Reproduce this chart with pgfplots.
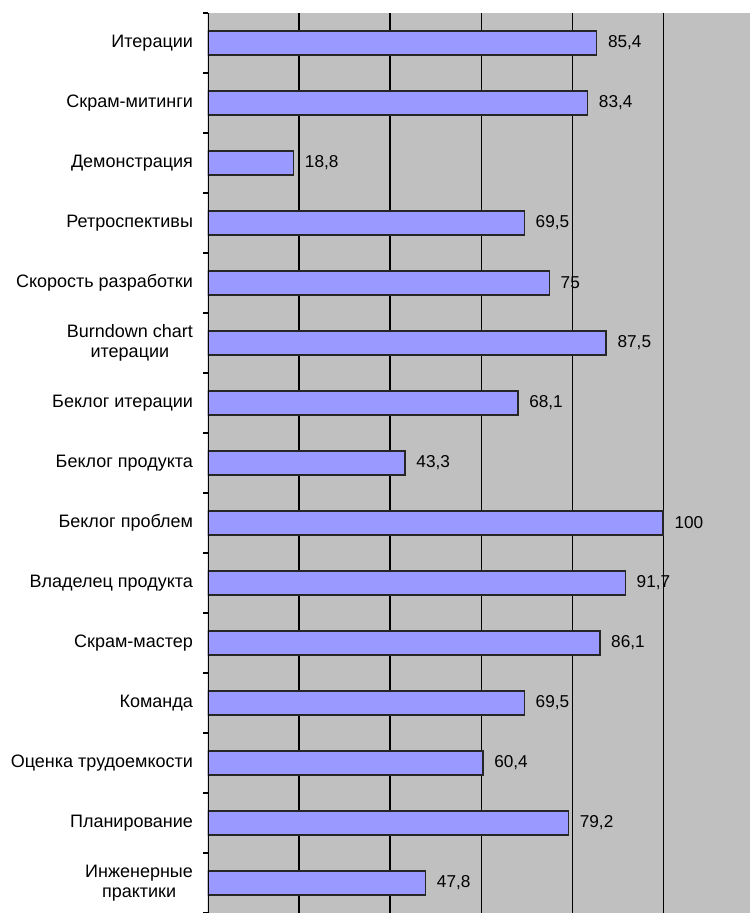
\documentclass[border=0pt]{standalone}
\usepackage{pgfplots}
\pgfplotsset{compat=1.18}
\usepackage{pgfplotstable}
\usepackage{fontspec}
\setmainfont{Liberation Sans}

\definecolor{plotgray}{HTML}{C0C0C0}
\definecolor{barblue}{HTML}{9999FF}

% position (top to bottom), value in %
\pgfplotstableread[col sep=comma]{
idx,value
0,85.4
1,83.4
2,18.8
3,69.5
4,75
5,87.5
6,68.1
7,43.3
8,100
9,91.7
10,86.1
11,69.5
12,60.4
13,79.2
14,47.8
}\scrum

\begin{document}
\begin{tikzpicture}
\begin{axis}[
    name=ax,
    scale only axis,
    width=271pt, height=450pt,
    xmin=0, xmax=119.1,
    ymin=-0.5, ymax=14.5,
    y dir=reverse,
    xbar, bar width=12pt,
    axis background/.style={fill=plotgray},
    axis line style={draw=none},
    xtick={20,40,...,100}, xticklabels={},
    x tick style={draw=none},
    xmajorgrids,
    major x grid style={black, line width=0.55pt},
    ytick={0,...,14},
    minor ytick={-0.5,0.5,...,14.5},
    major tick length=0pt,
    minor tick length=2.5pt,
    tick align=outside,
    ytick pos=left,
    y tick style={black, line width=0.55pt},
    yticklabel shift=4pt,
    yticklabels={
        Итерации,
        Скрам-митинги,
        Демонстрация,
        Ретроспективы,
        Скорость разработки,
        {Burndown chart\\итерации},
        Беклог итерации,
        Беклог продукта,
        Беклог проблем,
        Владелец продукта,
        Скрам-мастер,
        Команда,
        Оценка трудоемкости,
        Планирование,
        {Инженерные\\практики}
    },
    yticklabel style={align=center, font=\fontsize{9}{10}\selectfont},
    nodes near coords,
    every node near coord/.append style={font=\fontsize{8.6}{10}\selectfont, black, xshift=2pt},
    /pgf/number format/use comma,
    /pgf/number format/assume math mode=true,
]
\addplot[fill=barblue, draw=black!85, line width=0.75pt] table[x=value, y=idx]{\scrum};
\draw[black, line width=0.6pt] (rel axis cs:0,0) -- (rel axis cs:0,1);
\end{axis}
\pgfresetboundingbox
\path ([xshift=-104pt]ax.south west) rectangle ([yshift=6.5pt]ax.north east);
\end{tikzpicture}
\end{document}
